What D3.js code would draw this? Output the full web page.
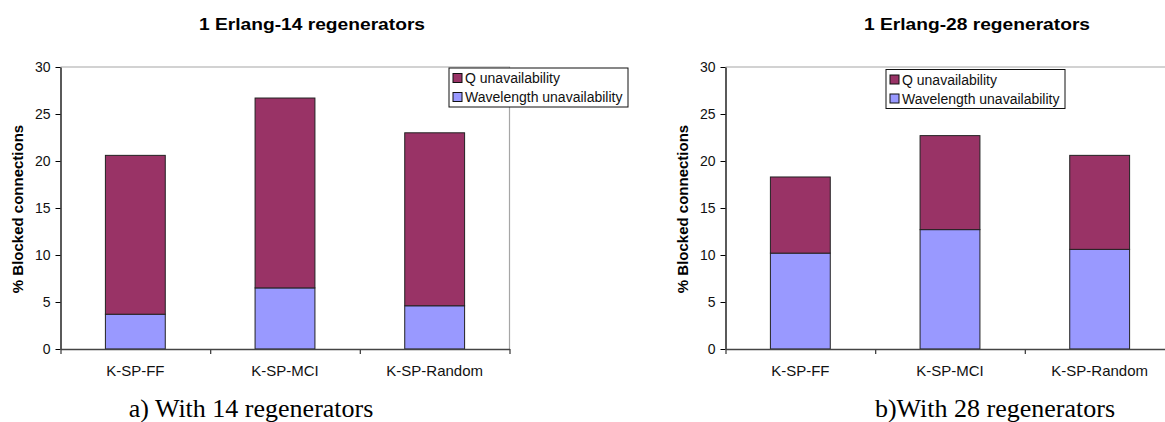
<!DOCTYPE html>
<html>
<head>
<meta charset="utf-8">
<script src="https://cdn.jsdelivr.net/npm/d3@7"></script>
<style>
  body { margin: 0; background: #fff; }
  text { font-family: "Liberation Sans", Arial, sans-serif; }
</style>
</head>
<body>
<script>
// values
const categories = ["K-SP-FF", "K-SP-MCI", "K-SP-Random"];
const seriesNames = ["Q unavailability", "Wavelength unavailability"];
const wave14 = [3.7, 6.5, 4.6];
const q14 = [16.9, 20.2, 18.4];
const wave28 = [10.2, 12.7, 10.6];
const q28 = [8.1, 10.0, 10.0];
const yTicks = [0, 5, 10, 15, 20, 25, 30];

const colors = { q: "#993366", wave: "#9999ff" };

const svg = d3.select("body").append("svg")
    .attr("width", 1165)
    .attr("height", 422);

function drawChart(opts) {
    const x0 = opts.left, x1 = opts.left + 449, top = 67, bottom = 349;
    const g = svg.append("g");

    const rows = categories.map((c, i) => ({ cat: c, wave: opts.wave[i], q: opts.q[i] }));
    const stacked = d3.stack().keys(["wave", "q"])(rows);

    const x = d3.scaleBand().domain(categories).range([x0, x1])
        .paddingInner(0.6).paddingOuter(0.3);
    const xb = d3.scaleLinear().domain([0, 3]).range([x0, x1]);
    const y = d3.scaleLinear().domain([0, 30]).range([bottom, top]);

    // plot frame (top + right, grey)
    g.append("path")
        .attr("d", `M${x0},${top}H${x1}V${bottom}`)
        .attr("fill", "none").attr("stroke", "#a6a6a6").attr("stroke-width", 1.2);

    g.selectAll("g.layer").data(stacked).enter().append("g")
        .attr("fill", d => d.key === "q" ? colors.q : colors.wave)
        .selectAll("rect").data(d => d).enter().append("rect")
        .attr("x", d => x(d.data.cat))
        .attr("width", x.bandwidth())
        .attr("y", d => y(d[1]))
        .attr("height", d => y(d[0]) - y(d[1]))
        .attr("stroke", "#222").attr("stroke-width", 1);

    // y axis
    const ya = g.append("g").attr("transform", `translate(${x0},0)`)
        .call(d3.axisLeft(y).tickValues(yTicks).tickSize(5).tickPadding(5).tickSizeOuter(0));
    ya.select(".domain").attr("stroke", "#000").attr("stroke-width", 1.3);
    ya.selectAll("text").attr("font-size", 14).attr("fill", "#111")
        .style("font-family", "Liberation Sans, Arial, sans-serif");

    // x axis: boundary ticks
    const xa = g.append("g").attr("transform", `translate(0,${bottom})`)
        .call(d3.axisBottom(xb).tickValues([0, 1, 2, 3]).tickFormat("").tickSize(5).tickSizeOuter(0));
    xa.selectAll("path, line").attr("stroke", "#444").attr("stroke-width", 1.3);

    g.selectAll("text.cat").data(categories).enter().append("text")
        .attr("class", "cat")
        .attr("x", d => x(d) + x.bandwidth() / 2)
        .attr("y", 376)
        .attr("text-anchor", "middle")
        .attr("font-size", 15)
        .attr("fill", "#111")
        .text(d => d);

    // title
    g.append("text")
        .attr("transform", `translate(${opts.titleX},30) scale(1.2,1)`)
        .attr("text-anchor", "middle")
        .attr("font-size", 16).attr("font-weight", "bold")
        .text(opts.title);

    // y axis title
    g.append("text")
        .attr("transform", `translate(${opts.left - 38},209) rotate(-90)`)
        .attr("text-anchor", "middle")
        .attr("font-size", 15).attr("font-weight", "bold")
        .text("% Blocked connections");

    // legend
    const lg = g.append("g").attr("transform", `translate(${opts.legX},${opts.legY})`);
    lg.append("rect").attr("width", 179).attr("height", 39)
        .attr("fill", "#fff").attr("stroke", "#111").attr("stroke-width", 1);
    const items = lg.selectAll("g.item").data(seriesNames).enter().append("g")
        .attr("transform", (d, i) => `translate(4,${10 + i * 19})`);
    items.append("rect").attr("y", -4.5).attr("width", 9).attr("height", 9)
        .attr("fill", (d, i) => i === 0 ? colors.q : colors.wave)
        .attr("stroke", "#111").attr("stroke-width", 1);
    items.append("text").attr("x", 12).attr("y", 5)
        .attr("font-size", 14).attr("fill", "#111")
        .text(d => d);

    // caption
    svg.append("text")
        .attr("x", opts.capX).attr("y", 417)
        .attr("text-anchor", "middle")
        .style("font-family", "Liberation Serif, Times New Roman, serif")
        .attr("font-size", 26)
        .text(opts.caption);
}

drawChart({
    left: 60.5, wave: wave14, q: q14,
    title: "1 Erlang-14 regenerators", titleX: 312,
    legX: 449, legY: 68,
    caption: "a) With 14 regenerators", capX: 251
});

drawChart({
    left: 725.5, wave: wave28, q: q28,
    title: "1 Erlang-28 regenerators", titleX: 977,
    legX: 886, legY: 69.5,
    caption: "b)With 28 regenerators", capX: 995
});
</script>
</body>
</html>
